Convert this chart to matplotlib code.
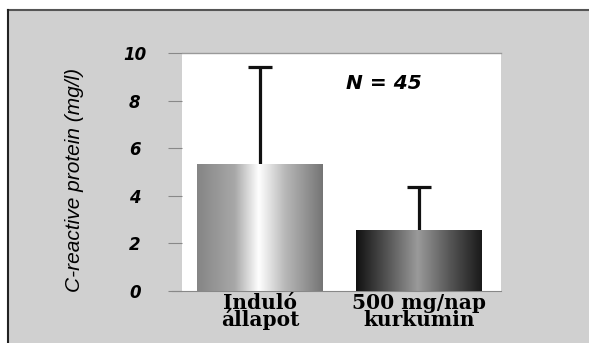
import numpy as np
import matplotlib
matplotlib.use("Agg")
import matplotlib.pyplot as plt
from matplotlib.patches import Rectangle
from matplotlib.colors import LinearSegmentedColormap

categories = ["Induló\nállapot", "500 mg/nap\nkurkumin"]
values = [5.33, 2.57]
errors = [4.11, 1.82]
yticks = [0, 2, 4, 6, 8, 10]
ylabel = "C-reactive protein (mg/l)"
annotation = "N = 45"

W, H = 589, 343
fig = plt.figure(figsize=(W / 100, H / 100), dpi=100)
fig.patch.set_facecolor("white")

# gray panel with dark top/left border
panel = Rectangle((8 / W, 0), 1 - 8 / W, 1 - 10 / H, transform=fig.transFigure,
                  facecolor="#d0d0d0", edgecolor="none", zorder=0)
fig.add_artist(panel)
fig.add_artist(plt.Line2D([8 / W, 1], [1 - 10 / H, 1 - 10 / H], transform=fig.transFigure,
                          color="#555555", lw=1.5))
fig.add_artist(plt.Line2D([8 / W, 8 / W], [0, 1 - 10 / H], transform=fig.transFigure,
                          color="#222222", lw=1.5))

left, right, top, bottom = 182, 501, 53.3, 291
ax = fig.add_axes([left / W, 1 - bottom / H, (right - left) / W, (bottom - top) / H])
ax.set_facecolor("white")

x = np.arange(len(categories))
bars = ax.bar(x, values, width=0.79, color="none", edgecolor="none", zorder=2)
vals = np.array(values)
errs = np.array(errors)
ax.vlines(x, vals, vals + errs, color="#111111", lw=2.3, zorder=1)
ax.hlines(vals + errs, x - 0.075, x + 0.075, color="#111111", lw=2.3, zorder=1)

cmaps = [
    LinearSegmentedColormap.from_list("g1", [(0, "#858585"), (0.3, "#a8a8a8"), (0.49, "#ffffff"),
                                             (0.7, "#b8b8b8"), (1, "#757575")]),
    LinearSegmentedColormap.from_list("g2", [(0, "#111111"), (0.25, "#555555"), (0.49, "#9a9a9a"),
                                             (0.75, "#555555"), (1, "#1a1a1a")]),
]
grad = np.linspace(0, 1, 256).reshape(1, -1)
for b, cm in zip(bars, cmaps):
    x0, y0 = b.get_x(), b.get_y()
    im = ax.imshow(grad, cmap=cm, aspect="auto", extent=(x0, x0 + b.get_width(), y0, y0 + b.get_height()),
                   zorder=3, interpolation="bilinear")
    im.set_clip_path(b)

ax.set_xlim(-0.49, 1.516)
ax.set_ylim(0, 10)
for s in ["left", "right", "bottom"]:
    ax.spines[s].set_visible(False)
ax.spines["top"].set_color("#999999")
ax.spines["top"].set_linewidth(1.0)

ax.set_yticks(yticks)
ax.set_yticklabels([str(t) for t in yticks], fontfamily="DejaVu Sans", fontweight="bold",
                   fontstyle="italic", fontsize=12, ha="center")
ax.tick_params(axis="y", direction="out", length=10, width=0.8, color="#888888", pad=24)
ax.set_xticks(x)
ax.set_xticklabels(categories, fontfamily="DejaVu Serif", fontweight="bold", fontsize=14.5,
                   linespacing=0.78)
ax.tick_params(axis="x", length=0, pad=1.5)
ax.axhline(0, color="#888888", lw=0.8, xmin=-10 / (right - left), clip_on=False)

ax.text(0.633, 0.875, annotation, transform=ax.transAxes, ha="center", va="center",
        fontfamily="DejaVu Sans", fontweight="bold", fontstyle="italic", fontsize=14.5)

fig.text(75 / W, 1 - 180 / H, ylabel, rotation=90, ha="center", va="center",
         fontfamily="Liberation Sans", fontstyle="italic", fontsize=15)

fig.savefig("out.png", dpi=100)
